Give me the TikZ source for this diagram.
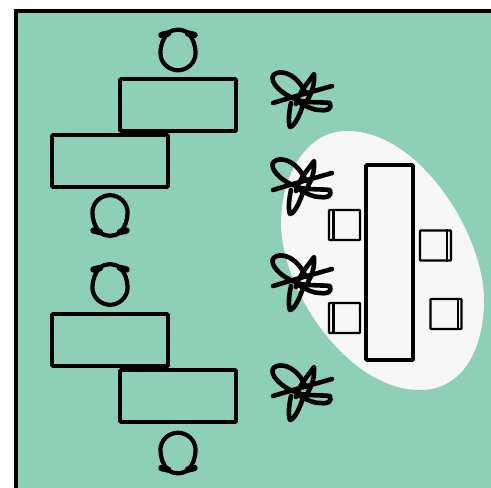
\documentclass[tikz,border=0pt]{standalone}
\usepackage{tikz}

\definecolor{floorgreen}{HTML}{8ECFB8}
\definecolor{zonegrey}{HTML}{F7F7F7}

\tikzset{
	desk/.style={draw,line width=3.6pt,rounded corners=0.8pt,minimum width=116pt,minimum height=52pt,inner sep=0pt},
	chair/.style={draw,line width=2.3pt,rounded corners=0.8pt,minimum width=31pt,minimum height=30pt,inner sep=0pt},
	seat/.pic={
		\draw[line width=4.2pt] (-10,-20) .. controls (-4,-24.5) and (4,-24.5) .. (10,-20) .. controls (15,-15) and (17.6,-7) .. (17.6,0) .. controls (17.6,10) and (9,17.3) .. (0,17.3) .. controls (-9,17.3) and (-17.6,10) .. (-17.6,0) .. controls (-17.6,-7) and (-15,-15) .. (-10,-20) -- cycle;
		\draw[line width=6.4pt,line cap=round] (-16.5,-18) -- (-10,-19.5);
		\draw[line width=6.4pt,line cap=round] (16.5,-18) -- (10,-19.5);
	},
	plant/.pic={
		\draw[line width=4.6pt,line cap=round,line join=round]
			(8,-6) .. controls (2,-20) and (-8,-27) .. (-16,-27.5) .. controls (-24,-28) and (-27,-24) .. (-25,-19) .. controls (-22,-11) and (-10,-3) .. (-2,-1)
			(-2,4) .. controls (1,-8) and (12,-20) .. (16,-26) .. controls (17,-14) and (13,-6) .. (8,3)
			(-25,3) -- (-5,-3) -- (34,-14)
			(-7,3) .. controls (-9,12) and (-10,22) .. (-8,27) .. controls (-3,26) and (2,14) .. (5,5)
			(-2,0) .. controls (10,3) and (24,2) .. (32,3) .. controls (34,9) and (30,11) .. (22,10) .. controls (14,10) and (8,6) .. (2,3);
	}
}

\begin{document}
\begin{tikzpicture}[x=1pt,y=-1pt]
	\useasboundingbox (0,0) rectangle (491,488);
	
	\fill[floorgreen] (16,11) rectangle (491,488);
	\draw[line width=3.6pt] (16,488) -- (16,11) -- (491,11);
	
	\fill[zonegrey] (347,131) .. controls (308,131) and (281,172) .. (281,225) .. controls (283,295) and (350,390) .. (420,390) .. controls (462,390) and (484,350) .. (484,300) .. controls (484,235) and (420,131) .. (347,131) -- cycle;
	
	\node[desk] (DeskA) at (178,105) {};
	\node[desk] (DeskB) at (110,161) {};
	\node[desk] (DeskC) at (110,340) {};
	\node[desk] (DeskD) at (178,396) {};
	\node[draw,line width=3.6pt,rounded corners=0.8pt,minimum width=47pt,minimum height=195pt,inner sep=0pt] (Table) at (389.5,262.5) {};
	
	\foreach \name/\x/\y in {ChairA/344.5/225, ChairB/344.5/318} {
		\node[chair] (\name) at (\x,\y) {};
		\draw[line width=2.3pt] ([xshift=5.5pt]\name.north west) -- ([xshift=5.5pt]\name.south west);
	}
	\foreach \name/\x/\y in {ChairC/435.5/245.5, ChairD/446/314} {
		\node[chair] (\name) at (\x,\y) {};
		\draw[line width=2.3pt] ([xshift=-5pt]\name.north east) -- ([xshift=-5pt]\name.south east);
	}
	
	\pic at (178,53) {seat};
	\pic[rotate=180] at (110,212.5) {seat};
	\pic at (110,287.5) {seat};
	\pic[rotate=180] at (178,450) {seat};
	
	\foreach \y in {100,187,283,393} {
		\pic at (298,\y) {plant};
	}
	
\end{tikzpicture}
\end{document}
